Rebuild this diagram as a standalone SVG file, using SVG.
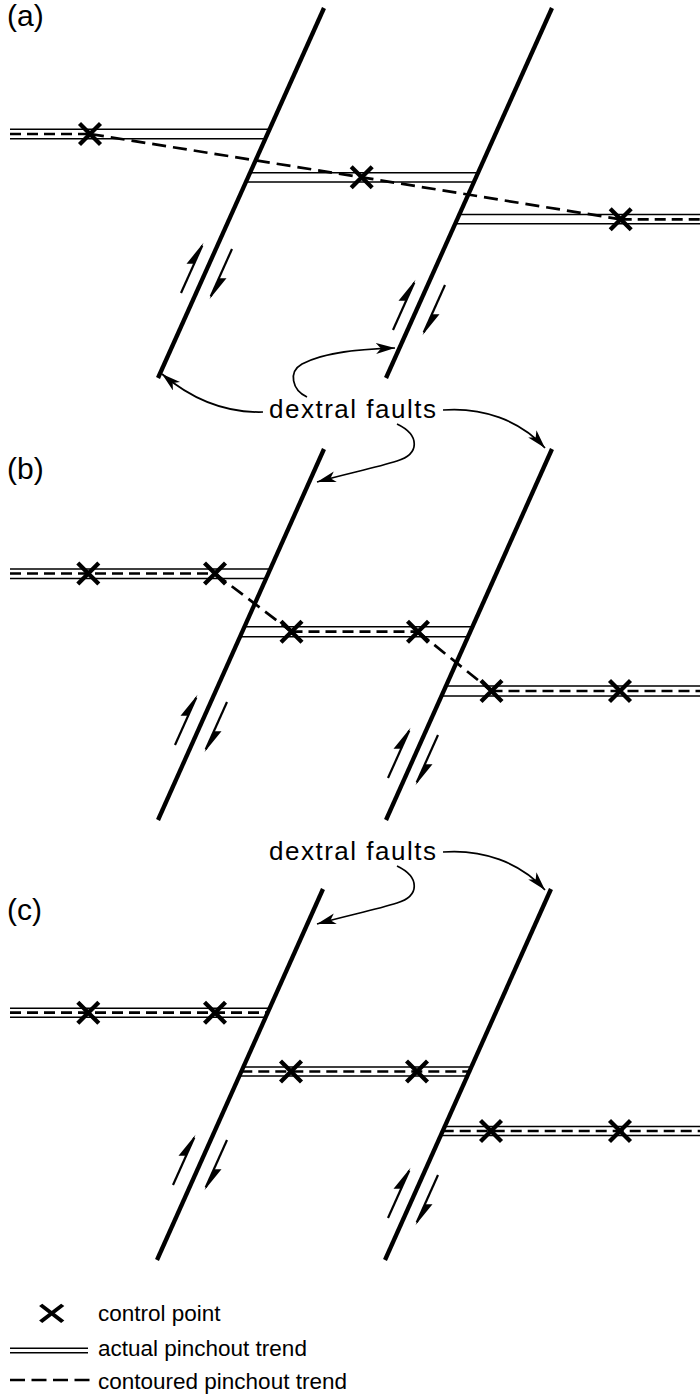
<svg xmlns="http://www.w3.org/2000/svg" width="700" height="1399" viewBox="0 0 700 1399">
<style>
.fault{stroke:#000;stroke-width:4.3;fill:none}
.thin{stroke:#000;stroke-width:1.4;fill:none}
.cdash{stroke:#000;stroke-width:2.7;fill:none;stroke-dasharray:11 6}
.diag{stroke:#000;stroke-width:2.7;fill:none;stroke-dasharray:14 7}
.xm{stroke:#000;stroke-width:4.3;fill:none}
.call{stroke:#000;stroke-width:1.7;fill:none;marker-end:url(#ah)}
.lbl{font-family:"Liberation Sans",Arial,sans-serif;font-size:30px;fill:#000}
.df{font-family:"Liberation Sans",Arial,sans-serif;font-size:26px;letter-spacing:1.5px;fill:#000}
.leg{font-family:"Liberation Sans",Arial,sans-serif;font-size:22.5px;fill:#000}
.shaft{stroke:#000;stroke-width:2.2;fill:none}
</style>
<defs>
<marker id="ah" markerUnits="userSpaceOnUse" markerWidth="22" markerHeight="12" refX="19" refY="5.5" orient="auto">
<path d="M0,0 L19,5.5 L0,11 L5,5.5 z" fill="#000"/>
</marker>
<g id="xmk"><path class="xm" d="M-10.5,-10.5 L10.5,10.5 M-10.5,10.5 L10.5,-10.5"/></g>
<g id="up"><path class="shaft" d="M0,0 L0,-52"/><path d="M0,-55 L-7,-29 L0,-32 z" fill="#000"/></g>
<g id="dn"><path class="shaft" d="M0,0 L0,52"/><path d="M0,55 L7,29 L0,32 z" fill="#000"/></g>
</defs>

<g id="panel-a">
<text class="lbl" x="7" y="26">(a)</text>
<path class="thin" d="M10,129.3 H269.6 M10,138.7 H265.4"/>
<path class="cdash" d="M10,134 H90"/>
<path class="thin" d="M250.1,172.7 H478.1 M245.9,182 H473.9"/>
<path class="thin" d="M459.4,214.5 H700 M455.2,223.7 H700"/>
<path class="cdash" d="M620.7,219.3 H700"/>
<path class="diag" d="M90,134 L361.7,177.3 L620.7,219.3"/>
<line class="fault" x1="324" y1="8" x2="158" y2="378"/>
<line class="fault" x1="552" y1="8" x2="386" y2="378"/>
<use href="#xmk" x="90" y="134"/>
<use href="#xmk" x="361.7" y="177.3"/>
<use href="#xmk" x="620.7" y="219.3"/>
<use href="#up" transform="translate(181,293) rotate(24.2)"/>
<use href="#dn" transform="translate(232,249) rotate(24.2)"/>
<use href="#up" transform="translate(393,330) rotate(24.2)"/>
<use href="#dn" transform="translate(445,285) rotate(24.2)"/>
</g>

<g id="panel-b">
<text class="lbl" x="7" y="479">(b)</text>
<path class="thin" d="M10,569 H270.3 M10,578.5 H266.1"/>
<path class="cdash" d="M10,573.5 H215"/>
<path class="thin" d="M244.5,626.7 H472.5 M240,636.7 H468"/>
<path class="cdash" d="M291.5,631.7 H418"/>
<path class="thin" d="M446,686 H700 M441.5,696 H700"/>
<path class="cdash" d="M491.5,691 H700"/>
<path class="diag" d="M215,573.5 L291.5,631.7 M418,631.7 L491.5,691"/>
<line class="fault" x1="324" y1="449" x2="158" y2="820"/>
<line class="fault" x1="552" y1="449" x2="386" y2="820"/>
<use href="#xmk" x="88.3" y="573.5"/>
<use href="#xmk" x="215" y="573.5"/>
<use href="#xmk" x="291.5" y="631.7"/>
<use href="#xmk" x="418" y="631.7"/>
<use href="#xmk" x="491.5" y="691"/>
<use href="#xmk" x="620" y="691"/>
<use href="#up" transform="translate(175,745) rotate(24.2)"/>
<use href="#dn" transform="translate(227,702) rotate(24.2)"/>
<use href="#up" transform="translate(388,778) rotate(24.2)"/>
<use href="#dn" transform="translate(438,735) rotate(24.2)"/>
</g>

<g id="panel-c">
<text class="lbl" x="7" y="920">(c)</text>
<path class="thin" d="M10,1008.3 H269.6 M10,1017.3 H265.6"/>
<path class="cdash" d="M10,1012.7 H267.6"/>
<path class="thin" d="M243.3,1067 H471.3 M239.3,1076 H467.3"/>
<path class="cdash" d="M241.3,1071.5 H469.3"/>
<path class="thin" d="M444.7,1126.5 H700 M440.7,1135.5 H700"/>
<path class="cdash" d="M442.7,1131 H700"/>
<line class="fault" x1="323" y1="889" x2="157" y2="1260"/>
<line class="fault" x1="551" y1="889" x2="385" y2="1260"/>
<use href="#xmk" x="88.3" y="1012.7"/>
<use href="#xmk" x="215" y="1012.7"/>
<use href="#xmk" x="291" y="1071.5"/>
<use href="#xmk" x="417" y="1071.5"/>
<use href="#xmk" x="491" y="1131"/>
<use href="#xmk" x="620" y="1131"/>
<use href="#up" transform="translate(173,1185) rotate(24.2)"/>
<use href="#dn" transform="translate(227,1140) rotate(24.2)"/>
<use href="#up" transform="translate(388,1218) rotate(24.2)"/>
<use href="#dn" transform="translate(438,1175) rotate(24.2)"/>
</g>

<g id="label-dextral-1">
<text class="df" x="269" y="418">dextral faults</text>
</g>
<g id="label-dextral-2">
<text class="df" x="269" y="860">dextral faults</text>
</g>

<g id="connectors">
<path class="call" d="M263,412 C228,413 195,402 162,374"/>
<path class="call" d="M307,397 C292,390 288,372 302,364 C325,352 360,349 395,348"/>
<path class="call" d="M443,410 C482,407 520,420 545,448"/>
<path class="call" d="M397,424 C420,435 420,454 397,461 C375,468 345,474 317,482"/>
<path class="call" d="M443,852 C482,849 520,862 545,890"/>
<path class="call" d="M397,866 C420,877 420,896 397,903 C375,910 345,916 317,924"/>
</g>

<g id="legend">
<use href="#xmk" transform="translate(51.7,1313.3) scale(1.05,0.8)"/>
<text class="leg" x="98" y="1321">control point</text>
<path class="thin" d="M10,1348.3 H88 M10,1352.7 H88"/>
<text class="leg" x="98" y="1356">actual pinchout trend</text>
<path stroke="#000" stroke-width="2.4" fill="none" stroke-dasharray="15 6.5" d="M10,1380 H90"/>
<text class="leg" x="98" y="1389">contoured pinchout trend</text>
</g>
</svg>
